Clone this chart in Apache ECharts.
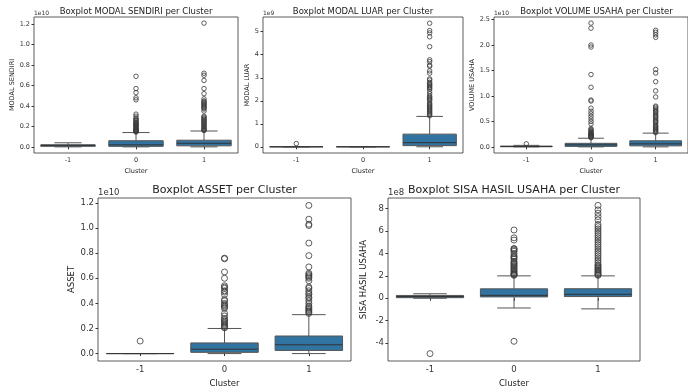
<!DOCTYPE html>
<html>
<head>
<meta charset="utf-8">
<script src="https://cdn.jsdelivr.net/npm/echarts@6/dist/echarts.min.js"></script>
<style>
  html, body { margin: 0; padding: 0; background: #fff; }
  #chart { width: 688px; height: 389px; }
</style>
</head>
<body>
<div id="chart"></div>
<script>
// kategori cluster
const clusters = ['-1', '0', '1']

// statistik box: [whisker bawah, Q1, median, Q3, whisker atas]
// MODAL SENDIRI (1e10)
const modalSendiriStats = [
  [0.0, 0.005, 0.015, 0.02, 0.04],
  [0.0, 0.005, 0.02, 0.06, 0.14],
  [0.0, 0.01, 0.035, 0.065, 0.155]
]
const modalSendiriOutliers = [
  [],
  [0.145, 0.15, 0.155, 0.16, 0.165, 0.17, 0.175, 0.18, 0.19, 0.2, 0.205, 0.21, 0.22, 0.225, 0.23, 0.24, 0.25, 0.26, 0.27, 0.28, 0.3, 0.32, 0.46, 0.48, 0.53, 0.57, 0.69],
  [0.16, 0.165, 0.17, 0.18, 0.19, 0.2, 0.21, 0.22, 0.23, 0.24, 0.25, 0.26, 0.27, 0.28, 0.29, 0.3, 0.35, 0.37, 0.38, 0.39, 0.4, 0.41, 0.42, 0.43, 0.44, 0.45, 0.47, 0.52, 0.57, 0.65, 0.7, 0.72, 1.21]
]

// MODAL LUAR (1e9)
const modalLuarStats = [
  [0, 0, 0, 0, 0],
  [0, 0, 0, 0, 0],
  [0, 0.05, 0.18, 0.55, 1.32]
]
const modalLuarOutliers = [
  [0.14],
  [],
  [1.35, 1.4, 1.45, 1.5, 1.55, 1.6, 1.65, 1.7, 1.75, 1.8, 1.85, 1.9, 2.0, 2.05, 2.1, 2.15, 2.2, 2.3, 2.4, 2.5, 2.55, 2.6, 2.65, 2.7, 2.75, 2.8, 2.9, 2.95, 3.2, 3.3, 3.5, 3.55, 3.7, 3.78, 4.35, 4.78, 4.95, 5.05, 5.37]
]

// VOLUME USAHA (1e10)
const volumeUsahaStats = [
  [0, 0.003, 0.008, 0.015, 0.03],
  [0, 0.01, 0.04, 0.07, 0.17],
  [0, 0.02, 0.06, 0.12, 0.27]
]
const volumeUsahaOutliers = [
  [0.06],
  [0.18, 0.19, 0.2, 0.21, 0.22, 0.23, 0.24, 0.25, 0.26, 0.28, 0.3, 0.32, 0.34, 0.36, 0.45, 0.5, 0.55, 0.6, 0.65, 0.7, 0.76, 0.9, 0.92, 1.17, 1.42, 1.96, 2.0, 2.33, 2.43],
  [0.28, 0.3, 0.32, 0.34, 0.36, 0.38, 0.4, 0.42, 0.45, 0.48, 0.5, 0.52, 0.55, 0.58, 0.6, 0.62, 0.65, 0.68, 0.7, 0.72, 0.75, 0.78, 0.8, 0.98, 1.1, 1.28, 1.45, 1.52, 2.15, 2.2, 2.25, 2.29]
]

// ASSET (1e10)
const assetStats = [
  [0, 0, 0, 0, 0],
  [0, 0.01, 0.035, 0.085, 0.2],
  [0, 0.025, 0.07, 0.14, 0.31]
]
const assetOutliers = [
  [0.1],
  [0.205, 0.21, 0.22, 0.23, 0.24, 0.25, 0.26, 0.27, 0.28, 0.3, 0.32, 0.36, 0.37, 0.38, 0.39, 0.4, 0.42, 0.43, 0.47, 0.49, 0.5, 0.52, 0.53, 0.54, 0.6, 0.65, 0.755, 0.76],
  [0.32, 0.33, 0.34, 0.35, 0.36, 0.37, 0.38, 0.4, 0.42, 0.44, 0.45, 0.47, 0.48, 0.5, 0.52, 0.53, 0.58, 0.6, 0.61, 0.62, 0.63, 0.64, 0.69, 0.78, 0.88, 1.02, 1.03, 1.07, 1.18]
]

// SISA HASIL USAHA (1e8)
const shuStats = [
  [0, 0.05, 0.15, 0.25, 0.4],
  [-0.87, 0.12, 0.26, 0.84, 2.0],
  [-0.95, 0.15, 0.35, 0.85, 2.0]
]
const shuOutliers = [
  [-4.95],
  [2.05, 2.1, 2.15, 2.2, 2.3, 2.4, 2.5, 2.6, 2.7, 2.8, 2.9, 3.0, 3.1, 3.2, 3.3, 3.5, 3.6, 3.7, 3.8, 4.0, 4.2, 4.3, 4.4, 4.45, 5.2, 5.4, 6.1, -3.85],
  [2.05, 2.1, 2.2, 2.3, 2.4, 2.5, 2.6, 2.7, 2.8, 2.9, 3.0, 3.2, 3.4, 3.6, 3.8, 4.0, 4.2, 4.4, 4.6, 4.8, 5.0, 5.2, 5.4, 5.6, 5.8, 6.0, 6.2, 6.4, 6.6, 7.0, 7.3, 7.6, 7.9, 8.3]
]

// tick sumbu y
const ticksModalSendiri = [0, 0.2, 0.4, 0.6, 0.8, 1.0, 1.2]
const ticksModalLuar = [0, 1, 2, 3, 4, 5]
const ticksVolumeUsaha = [0, 0.5, 1.0, 1.5, 2.0, 2.5]
const ticksAsset = [0, 0.2, 0.4, 0.6, 0.8, 1.0, 1.2]
const ticksShu = [-4, -2, 0, 2, 4, 6, 8]

const BOX_COLOR = '#3274a1'
const LINE_COLOR = '#555'
const FONT = 'DejaVu Sans'

const panels = [
  { title: 'Boxplot MODAL SENDIRI per Cluster', yName: 'MODAL SENDIRI', exp: '1e10',
    stats: modalSendiriStats, outliers: modalSendiriOutliers, ticks: ticksModalSendiri, dec: 1,
    min: -0.06, max: 1.27, grid: { left: 34, top: 17, width: 204, height: 136 }, small: true, yGap: 16 },
  { title: 'Boxplot MODAL LUAR per Cluster', yName: 'MODAL LUAR', exp: '1e9',
    stats: modalLuarStats, outliers: modalLuarOutliers, ticks: ticksModalLuar, dec: 0,
    min: -0.27, max: 5.64, grid: { left: 263, top: 17, width: 200, height: 136 }, small: true, yGap: 12 },
  { title: 'Boxplot VOLUME USAHA per Cluster', yName: 'VOLUME USAHA', exp: '1e10',
    stats: volumeUsahaStats, outliers: volumeUsahaOutliers, ticks: ticksVolumeUsaha, dec: 1,
    min: -0.12, max: 2.55, grid: { left: 494, top: 17, width: 205, height: 136 }, small: true, yGap: 16 },
  { title: 'Boxplot ASSET per Cluster', yName: 'ASSET', exp: '1e10',
    stats: assetStats, outliers: assetOutliers, ticks: ticksAsset, dec: 1,
    min: -0.059, max: 1.239, grid: { left: 98, top: 198, width: 253, height: 168 }, small: false, yGap: 21 },
  { title: 'Boxplot SISA HASIL USAHA per Cluster', yName: 'SISA HASIL USAHA', exp: '1e8',
    stats: shuStats, outliers: shuOutliers, ticks: ticksShu, dec: 0,
    min: -5.61, max: 8.96, grid: { left: 388, top: 198, width: 252, height: 168 }, small: false, yGap: 20 }
]

function renderBox(params, api) {
  const x = api.value(0)
  const low = api.coord([x, api.value(1)])
  const q1 = api.coord([x, api.value(2)])
  const med = api.coord([x, api.value(3)])
  const q3 = api.coord([x, api.value(4)])
  const high = api.coord([x, api.value(5)])
  const band = api.size([1, 0])[0]
  const bw = band * 0.8
  const cw = band * 0.4
  const cx = low[0]
  const ls = { stroke: LINE_COLOR, lineWidth: 1 }
  return {
    type: 'group',
    children: [
      { type: 'line', shape: { x1: cx, y1: q3[1], x2: cx, y2: high[1] }, style: ls },
      { type: 'line', shape: { x1: cx, y1: q1[1], x2: cx, y2: low[1] }, style: ls },
      { type: 'line', shape: { x1: cx - cw / 2, y1: high[1], x2: cx + cw / 2, y2: high[1] }, style: ls },
      { type: 'line', shape: { x1: cx - cw / 2, y1: low[1], x2: cx + cw / 2, y2: low[1] }, style: ls },
      { type: 'rect', shape: { x: cx - bw / 2, y: q3[1], width: bw, height: q1[1] - q3[1] },
        style: { fill: BOX_COLOR, stroke: LINE_COLOR, lineWidth: 1 } },
      { type: 'line', shape: { x1: cx - bw / 2, y1: med[1], x2: cx + bw / 2, y2: med[1] }, style: { stroke: '#333', lineWidth: 1 } }
    ]
  }
}

const grids = []
const xAxes = []
const yAxes = []
const series = []
const graphics = []

panels.forEach((p, i) => {
  const fs = p.small ? 6.5 : 8.5
  grids.push(Object.assign({ show: true, borderColor: '#333', borderWidth: 0.8, backgroundColor: '#fff' }, p.grid))
  xAxes.push({
    type: 'category', gridIndex: i, data: clusters,
    name: 'Cluster', nameLocation: 'middle', nameGap: p.small ? 15 : 18,
    nameTextStyle: { fontFamily: FONT, fontSize: fs, color: '#222' },
    axisLine: { show: false },
    axisTick: { show: true, alignWithLabel: true, length: 2.5, lineStyle: { color: '#333' } },
    axisLabel: { fontFamily: FONT, fontSize: fs, color: '#333', margin: 4 }
  })
  yAxes.push({
    type: 'value', gridIndex: i, min: p.min, max: p.max,
    name: p.yName, nameLocation: 'middle', nameGap: p.yGap,
    nameTextStyle: { fontFamily: FONT, fontSize: fs, color: '#222' },
    axisLine: { show: false },
    splitLine: { show: false },
    axisTick: { show: true, length: 2.5, customValues: p.ticks, lineStyle: { color: '#333' } },
    axisLabel: {
      fontFamily: FONT, fontSize: fs, color: '#333', margin: 4,
      customValues: p.ticks,
      formatter: v => v.toFixed(p.dec)
    }
  })
  series.push({
    type: 'custom', xAxisIndex: i, yAxisIndex: i,
    renderItem: renderBox,
    encode: { x: 0, y: [1, 2, 3, 4, 5] },
    data: p.stats.map((s, c) => [c].concat(s)),
    z: 2
  })
  const pts = []
  p.outliers.forEach((arr, c) => arr.forEach(v => pts.push([c, v])))
  series.push({
    type: 'scatter', xAxisIndex: i, yAxisIndex: i,
    symbol: 'circle', symbolSize: p.small ? 4.5 : 6,
    itemStyle: { color: 'rgba(0,0,0,0)', borderColor: '#3a3a3a', borderWidth: 1 },
    data: pts, z: 3
  })
  const g = p.grid
  graphics.push({
    type: 'text', x: g.left + g.width / 2, y: p.small ? 12 : 190,
    style: { text: p.title, font: (p.small ? 8.5 : 11) + 'px ' + FONT, fill: '#222', align: 'center', verticalAlign: 'middle' }
  })
  graphics.push({
    type: 'text', x: g.left, y: g.top - 1,
    style: { text: p.exp, font: (p.small ? 6 : 8.5) + 'px ' + FONT, fill: '#333', align: 'left', verticalAlign: 'bottom' }
  })
})

const chart = echarts.init(document.getElementById('chart'), null, { renderer: 'canvas' })
chart.setOption({
  animation: false,
  grid: grids,
  xAxis: xAxes,
  yAxis: yAxes,
  series: series,
  graphic: graphics
})
</script>
</body>
</html>
